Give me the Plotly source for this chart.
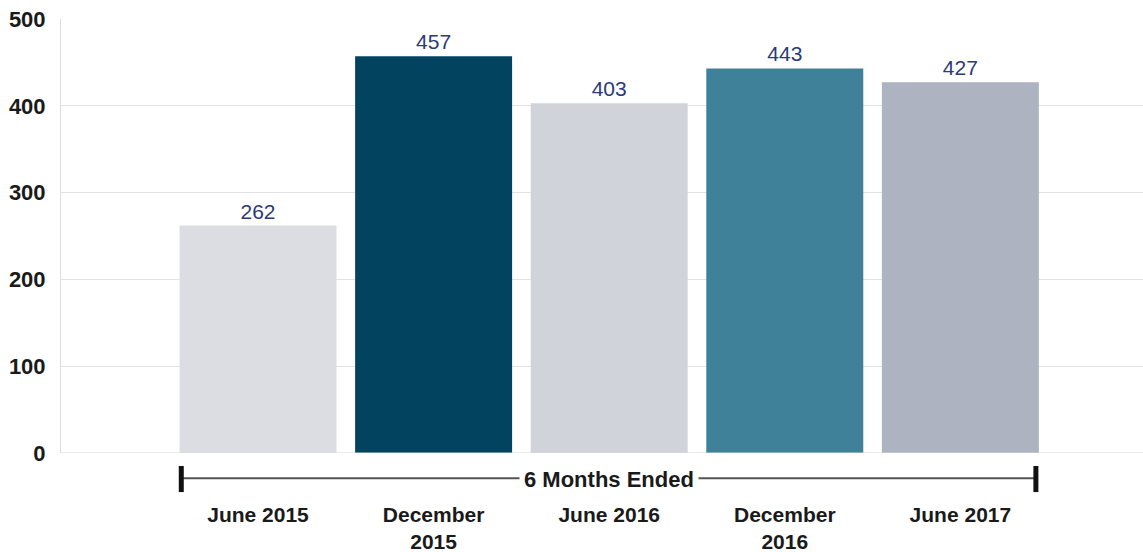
import plotly.graph_objects as go

categories = ["June 2015", "December<br>2015", "June 2016", "December<br>2016", "June 2017"]
values = [262, 457, 403, 443, 427]
colors = ["#dcdde2", "#02435f", "#d0d3da", "#3e8199", "#aeb3c2"]
group_label = "6 Months Ended"
y_ticks = [0, 100, 200, 300, 400, 500]

x = list(range(len(categories)))

fig = go.Figure()
fig.add_trace(go.Bar(
    x=x, y=values, width=0.894,
    marker=dict(color=colors, line=dict(width=0)),
    text=[str(v) for v in values], textposition="outside",
    textfont=dict(family="Liberation Sans, Arial", size=21, color="#2b3a78"),
    cliponaxis=False, hoverinfo="skip",
))

fig.update_layout(
    width=1143, height=552,
    margin=dict(l=61, r=0, t=19, b=99),
    plot_bgcolor="white", paper_bgcolor="white",
    showlegend=False,
    font=dict(family="Liberation Sans, Arial", color="#1a1a1a"),
    xaxis=dict(
        range=[-1.122, 5.04], tickvals=x, ticktext=categories,
        showgrid=False, zeroline=False, showline=False, ticks="",
        tickfont=dict(size=21, color="#1a1a1a", weight="bold"),
        ticklabelstandoff=47, automargin=False,
    ),
    yaxis=dict(
        range=[0, 500], tickvals=y_ticks, showgrid=True, gridcolor="#e2e2e2",
        gridwidth=1, zeroline=False, showline=True, linecolor="#dcdcdc",
        linewidth=1, ticks="", ticklabelstandoff=10, automargin=False,
        tickfont=dict(size=22, color="#1a1a1a", weight="bold"),
    ),
    bargap=0.1,
)

# bottom baseline
fig.add_shape(type="line", xref="paper", yref="y", x0=0, x1=1, y0=0, y1=0,
              line=dict(color="#d6d6d6", width=1))

# bracket for group label
fig.add_shape(type="line", xref="x", yref="paper", x0=-0.437, x1=4.43,
              y0=-0.058, y1=-0.058, line=dict(color="#555555", width=2))
for xv in [-0.437, 4.43]:
    fig.add_shape(type="line", xref="x", yref="paper", x0=xv, x1=xv,
                  y0=-0.03, y1=-0.09, line=dict(color="#111111", width=5))

fig.add_annotation(x=2, xref="x", y=-0.062, yref="paper", text="<b>" + group_label + "</b>",
                   showarrow=False, font=dict(size=22, color="#1a1a1a"),
                   bgcolor="white", borderpad=4, xanchor="center", yanchor="middle")

fig.write_html("out.html")
